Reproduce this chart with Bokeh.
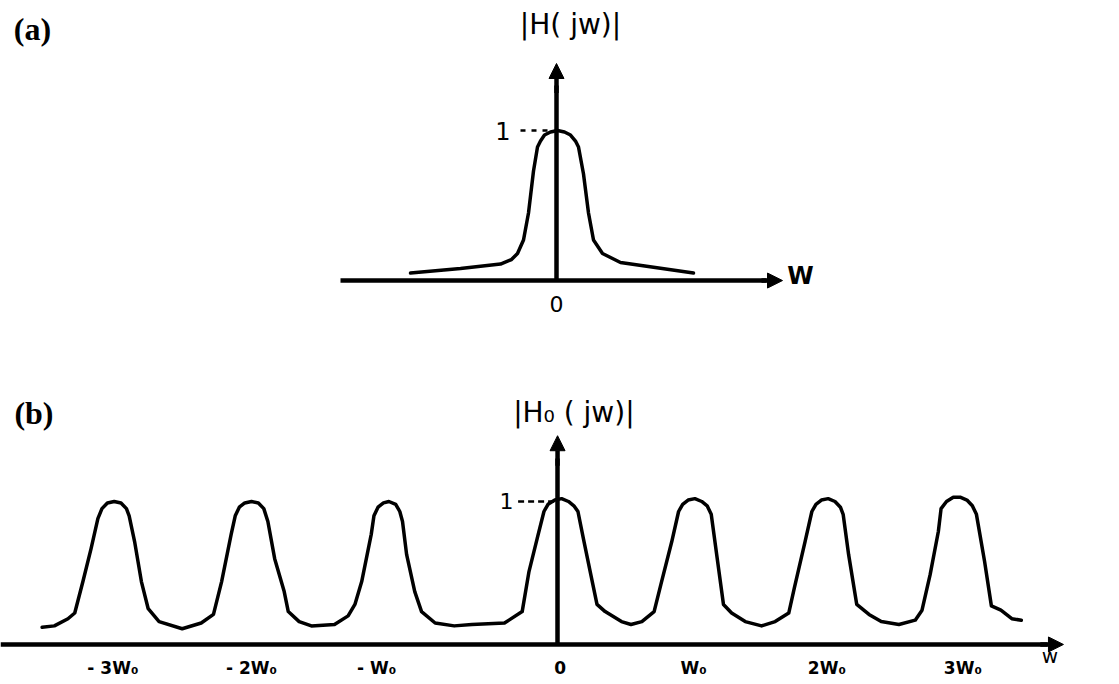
from bokeh.plotting import figure
from bokeh.layouts import column
from bokeh.models import Range1d, FixedTicker, Arrow, NormalHead, Label
from bokeh.embed import file_html
from bokeh.resources import INLINE

# ---------------- data ----------------
# (a) |H(jw)| : single low-pass magnitude (arbitrary w units)
a_w = [-1.46, -0.96, -0.56, -0.45, -0.39, -0.33, -0.28, -0.23, -0.19, -0.16, -0.12, -0.06,
       0.01, 0.08, 0.14, 0.19, 0.22, 0.27, 0.32, 0.37, 0.46, 0.64, 1.37]
a_mag = [0.05, 0.08, 0.11, 0.14, 0.18, 0.27, 0.45, 0.73, 0.89, 0.93, 0.97, 0.99,
         1.00, 0.99, 0.97, 0.93, 0.89, 0.71, 0.45, 0.27, 0.18, 0.12, 0.05]
a_ticks = [0]
a_tick_labels = ["0"]
a_level = [1]
a_level_labels = ["1"]

# (b) |H0(jw)| : periodic magnitude (w in units of W0)
b_w = [-3.79, -3.70, -3.60, -3.55, -3.49, -3.43, -3.38, -3.35, -3.31, -3.26, -3.21, -3.17,
       -3.15, -3.11, -3.06, -3.01, -2.93, -2.76, -2.62, -2.53, -2.47, -2.40, -2.37, -2.34,
       -2.30, -2.25, -2.20, -2.16, -2.13, -2.08, -2.01, -1.98, -1.90, -1.81, -1.64, -1.54,
       -1.49, -1.44, -1.37, -1.35, -1.32, -1.28, -1.24, -1.19, -1.16, -1.14, -1.11, -1.05,
       -1.00, -0.90, -0.76, -0.63, -0.39, -0.26, -0.21, -0.15, -0.10, -0.07, -0.02, 0.03,
       0.08, 0.12, 0.15, 0.19, 0.24, 0.29, 0.35, 0.47, 0.54, 0.62, 0.71, 0.76, 0.84, 0.89,
       0.92, 0.96, 1.01, 1.06, 1.10, 1.13, 1.17, 1.22, 1.28, 1.38, 1.50, 1.60, 1.70, 1.74,
       1.82, 1.87, 1.90, 1.94, 1.99, 2.04, 2.08, 2.10, 2.14, 2.20, 2.29, 2.38, 2.51, 2.63,
       2.68, 2.74, 2.80, 2.82, 2.86, 2.91, 2.96, 3.01, 3.05, 3.08, 3.14, 3.19, 3.26, 3.34,
       3.41]
b_mag = [0.12, 0.13, 0.18, 0.22, 0.44, 0.67, 0.88, 0.95, 0.99, 1.00, 0.99, 0.95,
         0.90, 0.72, 0.44, 0.25, 0.16, 0.11, 0.15, 0.21, 0.44, 0.77, 0.90, 0.96,
         0.99, 1.00, 0.99, 0.95, 0.86, 0.60, 0.37, 0.23, 0.16, 0.13, 0.14, 0.20,
         0.28, 0.44, 0.77, 0.90, 0.96, 0.99, 1.00, 0.98, 0.93, 0.86, 0.63, 0.37,
         0.23, 0.15, 0.13, 0.14, 0.15, 0.23, 0.51, 0.74, 0.93, 0.98, 1.01, 1.02,
         1.00, 0.97, 0.93, 0.74, 0.51, 0.28, 0.23, 0.16, 0.14, 0.16, 0.23, 0.42, 0.72, 0.93,
         0.98, 1.01, 1.02, 1.00, 0.97, 0.91, 0.63, 0.28, 0.22, 0.16, 0.13, 0.16, 0.22, 0.39,
         0.72, 0.93, 0.98, 1.01, 1.02, 1.00, 0.96, 0.91, 0.63, 0.28, 0.21, 0.16, 0.14, 0.17,
         0.24, 0.49, 0.79, 0.95, 1.00, 1.03, 1.03, 1.01, 0.97, 0.91, 0.58, 0.27, 0.24, 0.18,
         0.17]
b_ticks = [-3.27, -2.25, -1.33, 0.02, 1.0, 1.98, 2.98]
b_tick_labels = ["- 3W\u2080", "- 2W\u2080", "- W\u2080", "0", "W\u2080", "2W\u2080", "3W\u2080"]
b_level = [1]
b_level_labels = ["1"]

SANS = "DejaVu Sans"
SERIF = "Liberation Serif"


def style_axes(p, xbounds, ybounds, xticks, xlabels, ylevels, ylabels,
               xstand, ystand, xfont, yfont):
    xa = p.xaxis[0]
    ya = p.yaxis[0]
    for ax in (xa, ya):
        ax.fixed_location = 0
        ax.axis_line_width = 4.5
        ax.axis_line_color = "black"
        ax.major_tick_line_color = None
        ax.minor_tick_line_color = None
        ax.major_tick_in = 0
        ax.major_tick_out = 0
        ax.major_label_text_font = SANS
        ax.major_label_text_color = "black"
    xa.bounds = xbounds
    ya.bounds = ybounds
    xa.ticker = FixedTicker(ticks=xticks)
    xa.major_label_overrides = dict(zip(xticks, xlabels))
    xa.major_label_standoff = xstand
    xa.major_label_text_font_size = xfont
    ya.ticker = FixedTicker(ticks=ylevels)
    ya.major_label_overrides = dict(zip(ylevels, ylabels))
    ya.major_label_standoff = ystand
    ya.major_label_text_font_size = yfont


def base_fig(h, xr, yr):
    p = figure(width=1119, height=h, x_range=Range1d(*xr), y_range=Range1d(*yr),
               output_backend="svg", toolbar_location=None, min_border=0)
    p.grid.visible = False
    p.outline_line_color = None
    p.background_fill_color = "white"
    p.border_fill_color = "white"
    return p


def head():
    return NormalHead(size=15, fill_color="black", line_color="black")


# ---------------- panel (a) ----------------
p1 = base_fig(342, (-5.56, 5.63), (-0.413, 1.867))
p1.line(a_w, a_mag, line_width=3.5, color="black", line_join="round", line_cap="round")
style_axes(p1, (-2.16, 2.1), (0, 1.3), a_ticks, a_tick_labels, a_level, a_level_labels,
           15, 46, "22px", "24px")
p1.segment(x0=[-0.36], y0=a_level, x1=[-0.05], y1=a_level, line_width=2.5,
           color="black", line_dash="5 6")
p1.add_layout(Arrow(end=head(), x_start=2.05, y_start=0, x_end=2.26, y_end=0,
                    line_width=4.5, line_color="black"))
p1.add_layout(Arrow(end=head(), x_start=0, y_start=1.25, x_end=0, y_end=1.447,
                    line_width=4.5, line_color="black"))
p1.add_layout(Label(x=2.44, y=0.03, text="W", text_font=SANS, text_font_size="24px",
                    text_font_style="bold", text_color="black",
                    text_align="center", text_baseline="middle"))
p1.add_layout(Label(x=0.14, y=1.71, text="|H( jw)|", text_font=SANS, text_font_size="28px",
                    text_color="black", text_align="center", text_baseline="middle"))
p1.add_layout(Label(x=-5.24, y=1.68, text="(a)", text_font=SERIF, text_font_size="32px",
                    text_font_style="bold", text_color="black",
                    text_align="center", text_baseline="middle"))

# ---------------- panel (b) ----------------
p2 = base_fig(342, (-4.096, 4.132), (-0.280, 2.112))
p2.line(b_w, b_mag, line_width=3.5, color="black", line_join="round", line_cap="round")
style_axes(p2, (-4.2, 3.6), (0, 1.3), b_ticks, b_tick_labels, b_level, b_level_labels,
           14, 44, "17px", "22px")
p2.xaxis[0].major_label_text_font_style = "bold"
p2.segment(x0=[-0.29], y0=b_level, x1=[-0.02], y1=b_level, line_width=2.5,
           color="black", line_dash="6 4")
p2.add_layout(Arrow(end=head(), x_start=3.55, y_start=0, x_end=3.72, y_end=0,
                    line_width=4.5, line_color="black"))
p2.add_layout(Arrow(end=head(), x_start=0, y_start=1.25, x_end=0, y_end=1.46,
                    line_width=4.5, line_color="black"))
p2.add_layout(Label(x=3.62, y=-0.08, text="w", text_font=SANS, text_font_size="20px",
                    text_color="black", text_align="center", text_baseline="middle"))
p2.add_layout(Label(x=0.12, y=1.62, text="|H\u2080 ( jw)|", text_font=SANS,
                    text_font_size="28px", text_color="black",
                    text_align="center", text_baseline="middle"))
p2.add_layout(Label(x=-3.85, y=1.62, text="(b)", text_font=SERIF, text_font_size="32px",
                    text_font_style="bold", text_color="black",
                    text_align="center", text_baseline="middle"))

layout = column(p1, p2)
open("out.html", "w").write(file_html(layout, INLINE))
